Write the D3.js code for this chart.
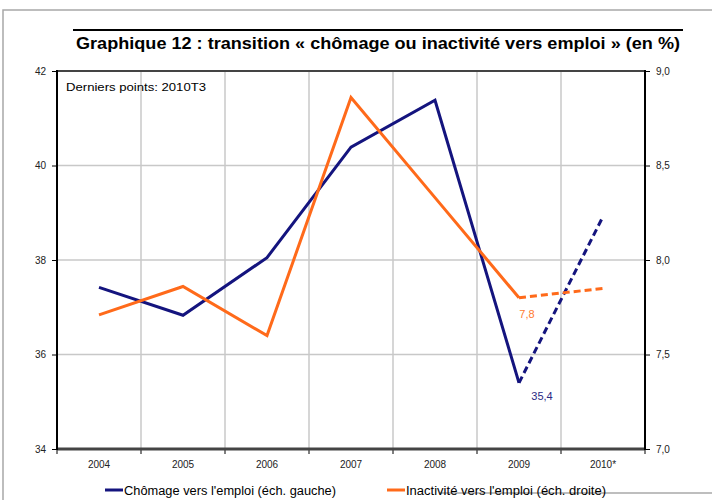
<!DOCTYPE html>
<html>
<head>
<meta charset="utf-8">
<script src="https://cdn.jsdelivr.net/npm/d3@7"></script>
<style>
body { margin: 0; background: #fff; }
svg { display: block; }
text { font-family: "Liberation Sans", Arial, sans-serif; }
.narrow { font-family: "Liberation Sans Narrow", "Arial Narrow", "Liberation Sans", sans-serif; }
</style>
</head>
<body>
<script>
//----------------
//Data
//----------------
var years = ['2004', '2005', '2006', '2007', '2008', '2009', '2010*']
var chomage = [37.42, 36.83, 38.05, 40.39, 41.38, 35.4, 38.92]      //left scale
var inactivite = [7.71, 7.86, 7.60, 8.86, 8.33, 7.8, 7.85]          //right scale
var leftTicks = [34, 36, 38, 40, 42]
var rightTicks = [7.0, 7.5, 8.0, 8.5, 9.0]
var seriesNames = ["Chômage vers l'emploi (éch. gauche)", "Inactivité vers l'emploi (éch. droite)"]

var _config = {
	'width' : 712,
	'height' : 500,
	'left' : 57,
	'right' : 645,
	'top' : 71,
	'bottom' : 449,
	'blue' : '#14147e',
	'orange' : '#ff6a1a',
	'grid' : '#c8c8c8'
}

var svg = d3.select('body').append('svg')
	.attr('width', _config.width)
	.attr('height', _config.height)

//outer frame
svg.append('path')
	.attr('d', 'M3,500V10H712')
	.attr('fill', 'none')
	.attr('stroke', '#a8a8a8')
	.attr('stroke-width', 1.5)
svg.append('line')
	.attr('x1', 440).attr('x2', 712).attr('y1', 493).attr('y2', 493)
	.attr('stroke', '#a8a8a8').attr('stroke-width', 1.5)

//title
svg.append('line')
	.attr('x1', 73).attr('x2', 683).attr('y1', 30).attr('y2', 30)
	.attr('stroke', '#000').attr('stroke-width', 2)
svg.append('text')
	.classed('narrow', true)
	.attr('x', 76).attr('y', 49)
	.attr('font-size', 17)
	.attr('font-weight', 'bold')
	.attr('textLength', 604)
	.attr('lengthAdjust', 'spacingAndGlyphs')
	.text('Graphique 12 : transition « chômage ou inactivité vers emploi » (en %)')

//scales
var x = d3.scaleBand().domain(years).range([_config.left, _config.right])
var yL = d3.scaleLinear().domain([34, 42]).range([_config.bottom, _config.top])
var yR = d3.scaleLinear().domain([7, 9]).range([_config.bottom, _config.top])

//gridlines
var gGrid = svg.append('g')
gGrid.selectAll('line.h').data(leftTicks.slice(1, -1)).enter().append('line')
	.attr('x1', _config.left).attr('x2', _config.right)
	.attr('y1', function(d){ return yL(d) }).attr('y2', function(d){ return yL(d) })
	.attr('stroke', _config.grid).attr('stroke-width', 1.5)
gGrid.selectAll('line.v').data(years.slice(1)).enter().append('line')
	.attr('x1', function(d){ return x(d) }).attr('x2', function(d){ return x(d) })
	.attr('y1', _config.top).attr('y2', _config.bottom)
	.attr('stroke', _config.grid).attr('stroke-width', 1.5)

//axes
var axL = svg.append('g')
	.attr('transform', 'translate(' + _config.left + ',0)')
	.call(d3.axisLeft(yL).tickValues(leftTicks).tickSize(5).tickPadding(6).tickFormat(d3.format('d')))
var axR = svg.append('g')
	.attr('transform', 'translate(' + _config.right + ',0)')
	.call(d3.axisRight(yR).tickValues(rightTicks).tickSize(5).tickPadding(6)
		.tickFormat(function(d){ return d3.format('.1f')(d).replace('.', ',') }))
var axB = svg.append('g')
	.attr('transform', 'translate(0,' + _config.bottom + ')')
	.call(d3.axisBottom(x).tickSize(0).tickPadding(12))
axB.selectAll('.tick').append('line')
	.attr('x1', x.bandwidth() / 2).attr('x2', x.bandwidth() / 2)
	.attr('y1', 0).attr('y2', 5)
	.attr('stroke', '#000')
svg.append('line')
	.attr('x1', _config.left).attr('x2', _config.left + 0.01)
	.attr('y1', _config.bottom).attr('y2', _config.bottom + 5)
	.attr('stroke', '#000')

;[axL, axR, axB].forEach(function(a){
	a.select('.domain').remove()
	a.selectAll('text').attr('font-size', 10).attr('fill', '#222')
})

//plot frame
svg.append('line')
	.attr('x1', _config.left).attr('x2', _config.right).attr('y1', _config.top).attr('y2', _config.top)
	.attr('stroke', '#444').attr('stroke-width', 2)
svg.append('line')
	.attr('x1', _config.left).attr('x2', _config.right).attr('y1', _config.bottom).attr('y2', _config.bottom)
	.attr('stroke', '#444').attr('stroke-width', 3)
svg.append('line')
	.attr('x1', _config.left).attr('x2', _config.left).attr('y1', _config.top - 1).attr('y2', _config.bottom + 1)
	.attr('stroke', '#000').attr('stroke-width', 2)
svg.append('line')
	.attr('x1', _config.right).attr('x2', _config.right).attr('y1', _config.top - 1).attr('y2', _config.bottom + 1)
	.attr('stroke', '#000').attr('stroke-width', 2)

//annotation
svg.append('text')
	.classed('narrow', true)
	.attr('x', 66).attr('y', 91)
	.attr('font-size', 11)
	.attr('textLength', 140)
	.attr('lengthAdjust', 'spacingAndGlyphs')
	.text('Derniers points: 2010T3')

//lines
function cx(d, i){ return x(years[i]) + x.bandwidth() / 2 }
var lineL = d3.line().x(function(d){ return d.x }).y(function(d){ return yL(d.v) })
var lineR = d3.line().x(function(d){ return d.x }).y(function(d){ return yR(d.v) })

function pts(arr){ return arr.map(function(v, i){ return { x: cx(v, i), v: v } }) }
var pL = pts(chomage), pR = pts(inactivite)
var n = years.length

svg.append('path').datum(pL.slice(0, n - 1)).attr('d', lineL)
	.attr('fill', 'none').attr('stroke', _config.blue).attr('stroke-width', 3).attr('stroke-linejoin', 'miter')
svg.append('path').datum(pL.slice(n - 2)).attr('d', lineL)
	.attr('fill', 'none').attr('stroke', _config.blue).attr('stroke-width', 3).attr('stroke-dasharray', '7,4')
svg.append('path').datum(pR.slice(0, n - 1)).attr('d', lineR)
	.attr('fill', 'none').attr('stroke', _config.orange).attr('stroke-width', 3).attr('stroke-linejoin', 'miter')
svg.append('path').datum(pR.slice(n - 2)).attr('d', lineR)
	.attr('fill', 'none').attr('stroke', _config.orange).attr('stroke-width', 3).attr('stroke-dasharray', '7,4')

//value labels
svg.append('text')
	.attr('x', pR[n - 2].x + 8).attr('y', yR(inactivite[n - 2]) + 20)
	.attr('text-anchor', 'middle').attr('font-size', 11).attr('fill', '#ff7a30')
	.text(d3.format('.1f')(inactivite[n - 2]).replace('.', ','))
svg.append('text')
	.attr('x', pL[n - 2].x + 23).attr('y', yL(chomage[n - 2]) + 17)
	.attr('text-anchor', 'middle').attr('font-size', 11).attr('fill', '#2a2a84')
	.text(d3.format('.1f')(chomage[n - 2]).replace('.', ','))

//legend
var legend = [
	{ name: seriesNames[0], color: _config.blue, x: 105, w: 212 },
	{ name: seriesNames[1], color: _config.orange, x: 387, w: 200 }
]
var gLeg = svg.append('g').selectAll('g').data(legend).enter().append('g')
gLeg.append('line')
	.attr('x1', function(d){ return d.x }).attr('x2', function(d){ return d.x + 18 })
	.attr('y1', 490).attr('y2', 490)
	.attr('stroke', function(d){ return d.color }).attr('stroke-width', 3)
gLeg.append('text')
	.classed('narrow', true)
	.attr('x', function(d){ return d.x + 19 }).attr('y', 495)
	.attr('font-size', 12)
	.attr('textLength', function(d){ return d.w })
	.attr('lengthAdjust', 'spacingAndGlyphs')
	.text(function(d){ return d.name })
</script>
</body>
</html>
